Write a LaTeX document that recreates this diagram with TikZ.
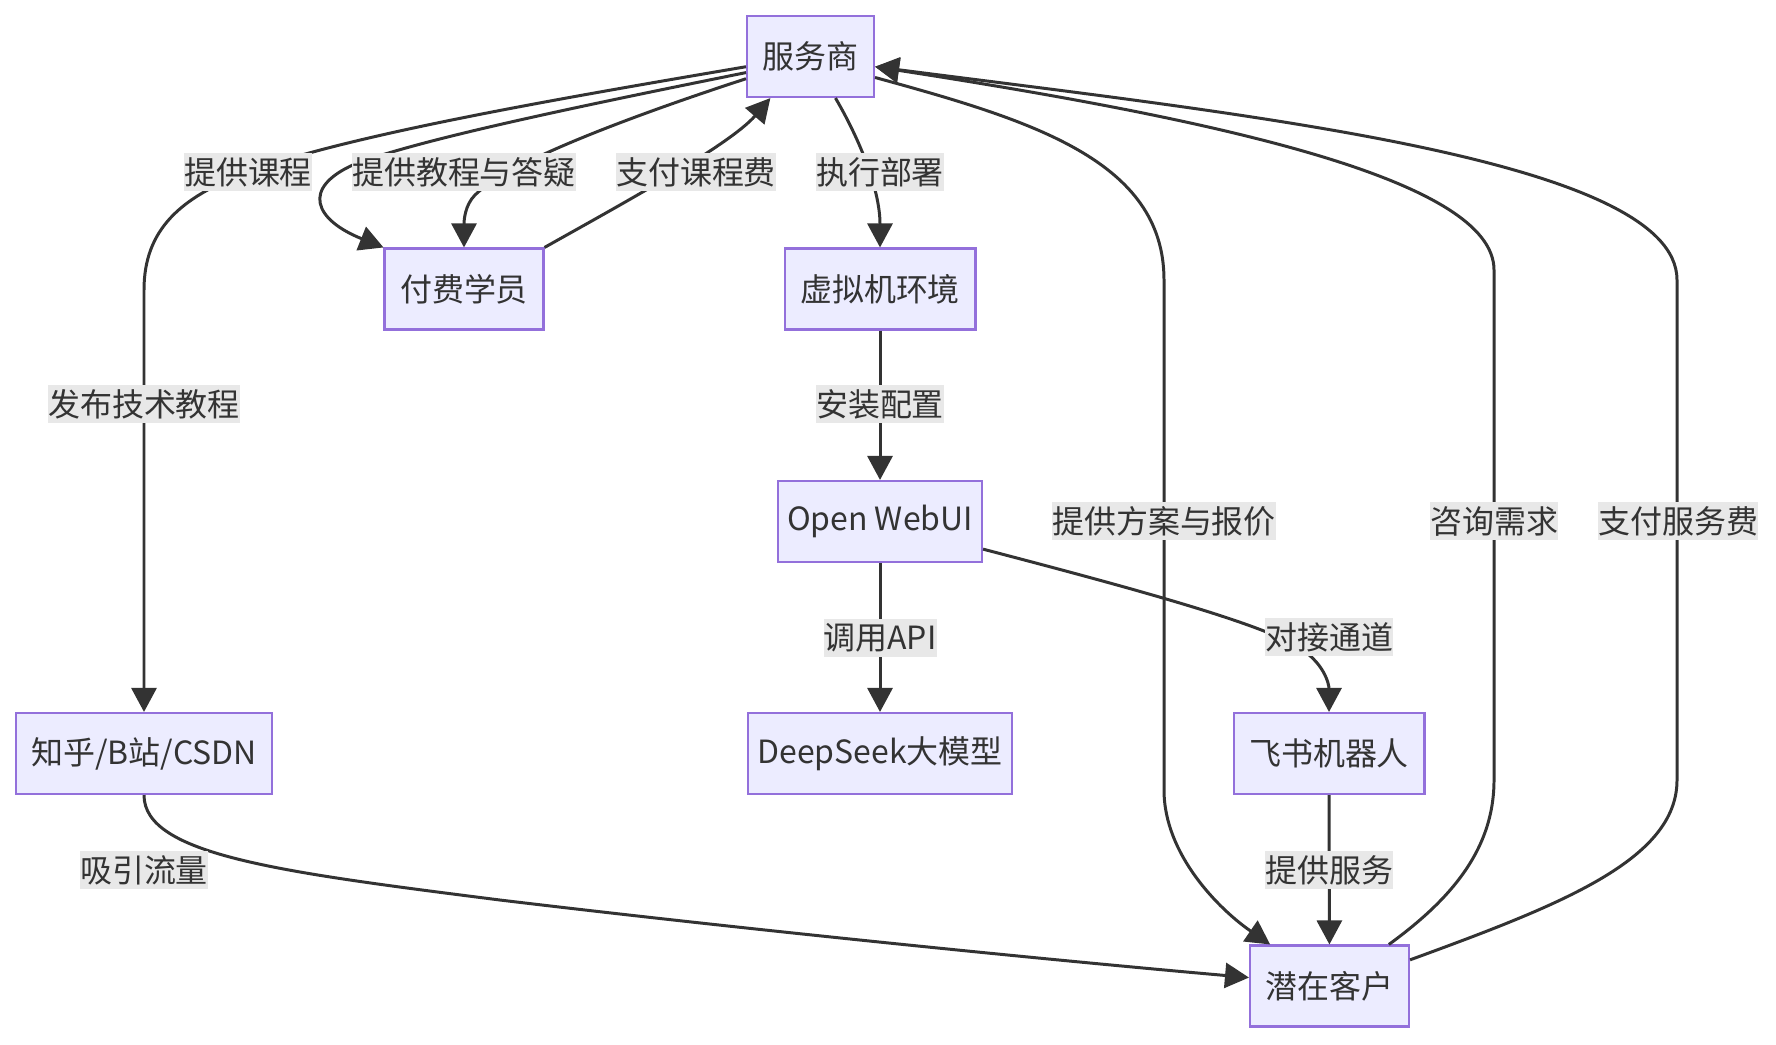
\documentclass[tikz,border=0pt]{standalone}
\usepackage{fontspec}
\setmainfont{Noto Sans CJK SC}
\usepackage{xcolor}
\definecolor{boxFill}{HTML}{ECECFF}
\definecolor{boxLine}{HTML}{9370DB}
\definecolor{inkGray}{HTML}{333333}
\definecolor{tagGray}{HTML}{E8E8E8}
\usetikzlibrary{arrows.meta}
\tikzset{
  box/.style={draw=boxLine, fill=boxFill, line width=0.6pt, text=inkGray,
    inner xsep=0.155cm, inner ysep=0pt, minimum height=0.81cm,
    font=\fontsize{9.1pt}{11pt}\selectfont},
  tightbox/.style={box, inner xsep=0.09cm},
  tag/.style={fill=tagGray, text=inkGray, inner sep=0pt, minimum height=0.38cm,
    font=\fontsize{9.1pt}{11pt}\selectfont},
  flow/.style={draw=inkGray, line width=0.85pt},
}

\begin{document}
\begin{tikzpicture}[>={Triangle[length=0.24cm,width=0.25cm]}, y=-1cm]
  \useasboundingbox (0,0) rectangle (17.76,10.44);
  % boxes
  \node[box] (svc)   at (8.105,0.565) {服务商};
  \node[box] (stu)   at (4.64,2.89)   {付费学员};
  \node[box] (vm)    at (8.80,2.89)   {虚拟机环境};
  \node[tightbox] (webui) at (8.80,5.215)  {Open WebUI};
  \node[box] (plat)  at (1.44,7.535)  {知乎/B站/CSDN};
  \node[tightbox] (ds)    at (8.80,7.535)  {DeepSeek大模型};
  \node[box] (bot)   at (13.29,7.535) {飞书机器人};
  \node[box] (cust)  at (13.295,9.86) {潜在客户};

  % connectors
  \draw[flow,->] (svc.189) .. controls (5.5,1.0) and (3.5,1.35) .. (2.48,1.72)
    .. controls (1.8,1.97) and (1.44,2.3) .. (1.44,2.9) -- (plat.north);
  \draw[flow,->] (svc.194) .. controls (5.6,1.1) and (4.2,1.4) .. (3.55,1.64)
    .. controls (3.0,1.88) and (3.15,2.2) .. (stu.north west);
  \draw[flow,->] (svc.199) .. controls (6.5,1.1) and (5.1,1.6) .. (4.75,1.95)
    .. controls (4.65,2.05) and (4.64,2.2) .. (stu.north);
  \draw[flow,->] (stu.north east) .. controls (6.2,2.05) and (7.3,1.45) .. (svc.226);
  \draw[flow,->] (svc.301) .. controls (8.6,1.4) and (8.8,1.9) .. (vm.north);
  \foreach \a/\b in {vm/webui, webui/ds, bot/cust}
    \draw[flow,->] (\a) -- (\b);
  \draw[flow,->] (webui.345) .. controls (11.2,5.85) and (12.5,6.2) .. (12.95,6.45)
    .. controls (13.25,6.62) and (13.29,6.85) .. (bot.north);
  \draw[flow,->] (plat.south) .. controls (1.44,8.55) and (2.8,8.72) .. (5.0,9.0)
    .. controls (7.5,9.3) and (10.5,9.6) .. (cust.174);
  \draw[flow,->] (svc.342) .. controls (10.3,1.2) and (11.64,1.6) .. (11.64,2.8)
    -- (11.64,7.9) .. controls (11.64,8.55) and (12.2,9.1) .. (cust.145);
  \draw[flow,->] (cust.35) .. controls (14.5,9.0) and (14.94,8.5) .. (14.94,7.8)
    -- (14.94,2.7) .. controls (14.94,1.8) and (12.2,1.2) .. (svc.351);
  \draw[flow,->] (cust.18) .. controls (15.6,9.05) and (16.77,8.6) .. (16.77,7.8)
    -- (16.77,2.8) .. controls (16.77,1.6) and (12.5,1.15) .. (svc.351);

  % edge labels
  \foreach \n/\p/\t in {tCourse/{2.48,1.72}/提供课程, tTutor/{4.64,1.72}/提供教程与答疑,
      tFee/{6.96,1.72}/支付课程费, tDeploy/{8.80,1.72}/执行部署,
      tPublish/{1.44,4.04}/发布技术教程, tInstall/{8.80,4.04}/安装配置,
      tQuote/{11.64,5.21}/提供方案与报价, tAsk/{14.94,5.21}/咨询需求,
      tPay/{16.78,5.21}/支付服务费, tApi/{8.80,6.38}/调用API,
      tLink/{13.29,6.37}/对接通道, tTraffic/{1.44,8.70}/吸引流量,
      tServe/{13.29,8.70}/提供服务}
    \node[tag] (\n) at (\p) {\t};
\end{tikzpicture}
\end{document}
